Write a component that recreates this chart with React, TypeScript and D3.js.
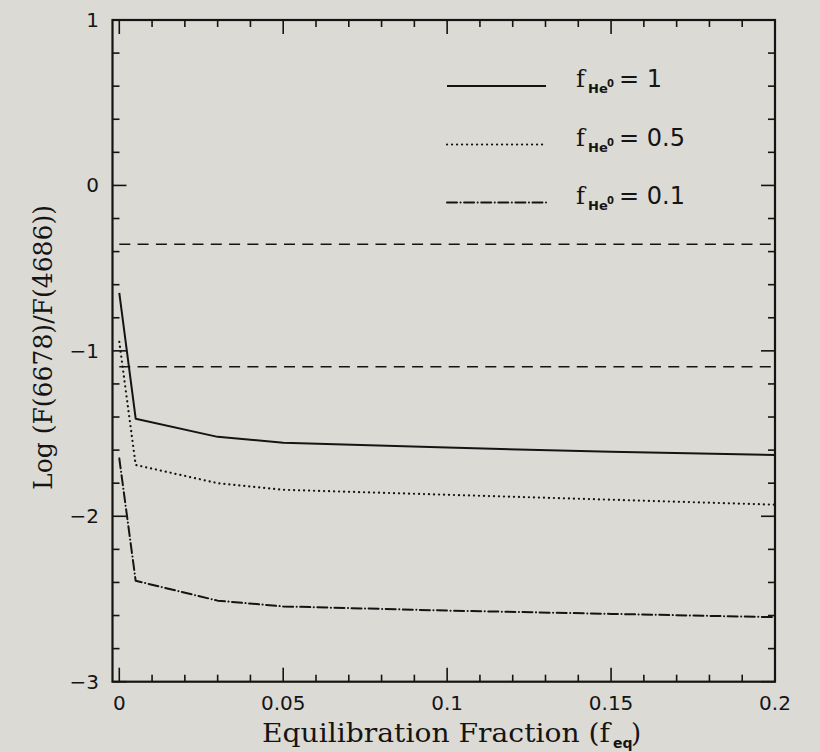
import React, { useEffect } from "react";
import * as d3 from "d3";

// Equilibration fraction sampling points
const xValues = [0, 0.005, 0.03, 0.05, 0.1, 0.15, 0.2];

// Log(F(6678)/F(4686)) for each He0 fraction
const seriesHe1 = [-0.65, -1.41, -1.52, -1.555, -1.585, -1.61, -1.63];
const seriesHe05 = [-0.945, -1.69, -1.8, -1.84, -1.87, -1.9, -1.93];
const seriesHe01 = [-1.65, -2.39, -2.51, -2.545, -2.57, -2.59, -2.61];

const seriesLabels = ["1", "0.5", "0.1"];

// Observed ratio limits (horizontal dashed lines)
const observedLimits = [-0.356, -1.096];

const xTickLabels = ["0", "0.05", "0.1", "0.15", "0.2"];
const yTickLabels = ["−3", "−2", "−1", "0", "1"];

const W = 820;
const H = 752;
const frame = { left: 112.5, right: 775, top: 20, bottom: 681.7 };

export default function App() {
  useEffect(() => {
    document.body.style.margin = "0";
  }, []);

  const x = d3.scaleLinear().domain([-0.00207, 0.2]).range([frame.left, frame.right]);
  const y = d3.scaleLinear().domain([-3, 1]).range([frame.bottom, frame.top]);

  const line = d3
    .line<number>()
    .x((_, i) => x(xValues[i]))
    .y((d) => y(d));

  const styles = [
    { dash: undefined as string | undefined, width: 2, cap: "butt" },
    { dash: "0.1,4.9", width: 2.2, cap: "round" },
    { dash: "10,3.5,0.1,3.5", width: 2, cap: "round" },
  ];
  const series = [seriesHe1, seriesHe05, seriesHe01];

  const xMinor = d3.range(0, 21).map((i) => i * 0.01);
  const yMinor = d3.range(0, 21).map((i) => -3 + i * 0.2);
  const xMajor = d3.range(0, 5).map((i) => i * 0.05);
  const yMajor = d3.range(-3, 2);

  const ink = "#141414";
  const major = 14;
  const minor = 7;
  const serif = "'DejaVu Serif', serif";
  const sans = "'DejaVu Sans', sans-serif";

  const legendY = [86, 144.5, 202.5];

  return (
    <svg width={W} height={H} style={{ display: "block" }}>
      <rect x={0} y={0} width={W} height={H} fill="#dcdad5" />

      {/* observed limits */}
      {observedLimits.map((v, i) => (
        <line
          key={"lim" + i}
          x1={x(0)}
          x2={frame.right}
          y1={y(v)}
          y2={y(v)}
          stroke={ink}
          strokeWidth={1.6}
          strokeDasharray="11,7.3"
        />
      ))}

      {/* model curves */}
      {series.map((s, i) => (
        <path
          key={"s" + i}
          d={line(s) ?? ""}
          fill="none"
          stroke={ink}
          strokeWidth={styles[i].width}
          strokeDasharray={styles[i].dash}
          strokeLinecap={styles[i].cap as any}
          strokeLinejoin="round"
        />
      ))}

      {/* ticks on all four sides */}
      <g stroke={ink} strokeWidth={1.6}>
        {xMinor.map((v, i) => {
          const len = xMajor.some((m) => Math.abs(m - v) < 1e-9) ? major : minor;
          return (
            <g key={"xt" + i}>
              <line x1={x(v)} x2={x(v)} y1={frame.bottom} y2={frame.bottom - len} />
              <line x1={x(v)} x2={x(v)} y1={frame.top} y2={frame.top + len} />
            </g>
          );
        })}
        {yMinor.map((v, i) => {
          const len = yMajor.some((m) => Math.abs(m - v) < 1e-9) ? major : minor;
          return (
            <g key={"yt" + i}>
              <line x1={frame.left} x2={frame.left + len} y1={y(v)} y2={y(v)} />
              <line x1={frame.right} x2={frame.right - len} y1={y(v)} y2={y(v)} />
            </g>
          );
        })}
      </g>

      <rect
        x={frame.left}
        y={frame.top}
        width={frame.right - frame.left}
        height={frame.bottom - frame.top}
        fill="none"
        stroke={ink}
        strokeWidth={2.2}
      />

      {/* tick labels */}
      <g fill={ink} fontFamily={sans} fontSize={20}>
        {xMajor.map((v, i) => (
          <text key={"xl" + i} x={x(v)} y={710} textAnchor="middle">
            {xTickLabels[i]}
          </text>
        ))}
        {yMajor.map((v, i) => (
          <text key={"yl" + i} x={99} y={y(v) + 7} textAnchor="end">
            {yTickLabels[i]}
          </text>
        ))}
      </g>

      {/* axis titles */}
      <g fill={ink} fontFamily={serif} fontSize={26}>
        <text x={262} y={742} textLength={348} lengthAdjust="spacingAndGlyphs">
          Equilibration Fraction (f
        </text>
        <text x={613} y={748} fontFamily={sans} fontWeight="bold" fontSize={14}>
          eq
        </text>
        <text x={631} y={742}>)</text>
        <text
          transform="translate(52,490) rotate(-90)"
          x={0}
          y={0}
          textLength={285}
          lengthAdjust="spacingAndGlyphs"
        >
          Log (F(6678)/F(4686))
        </text>
      </g>

      {/* legend */}
      {seriesLabels.map((lab, i) => (
        <g key={"lg" + i}>
          <line
            x1={447}
            x2={546}
            y1={legendY[i]}
            y2={legendY[i]}
            stroke={ink}
            strokeWidth={styles[i].width}
            strokeDasharray={styles[i].dash}
            strokeLinecap={styles[i].cap as any}
          />
          <text x={576} y={legendY[i] + 1} fill={ink} fontFamily={serif} fontSize={24}>
            f
          </text>
          <text x={588} y={legendY[i] + 7} fill={ink} fontFamily={sans} fontWeight="bold" fontSize={13}>
            He
          </text>
          <text x={607} y={legendY[i] + 1} fill={ink} fontFamily={sans} fontWeight="bold" fontSize={10}>
            0
          </text>
          <text x={619} y={legendY[i] + 1} fill={ink} fontFamily={sans} fontSize={24}>
            {"= " + lab}
          </text>
        </g>
      ))}
    </svg>
  );
}
